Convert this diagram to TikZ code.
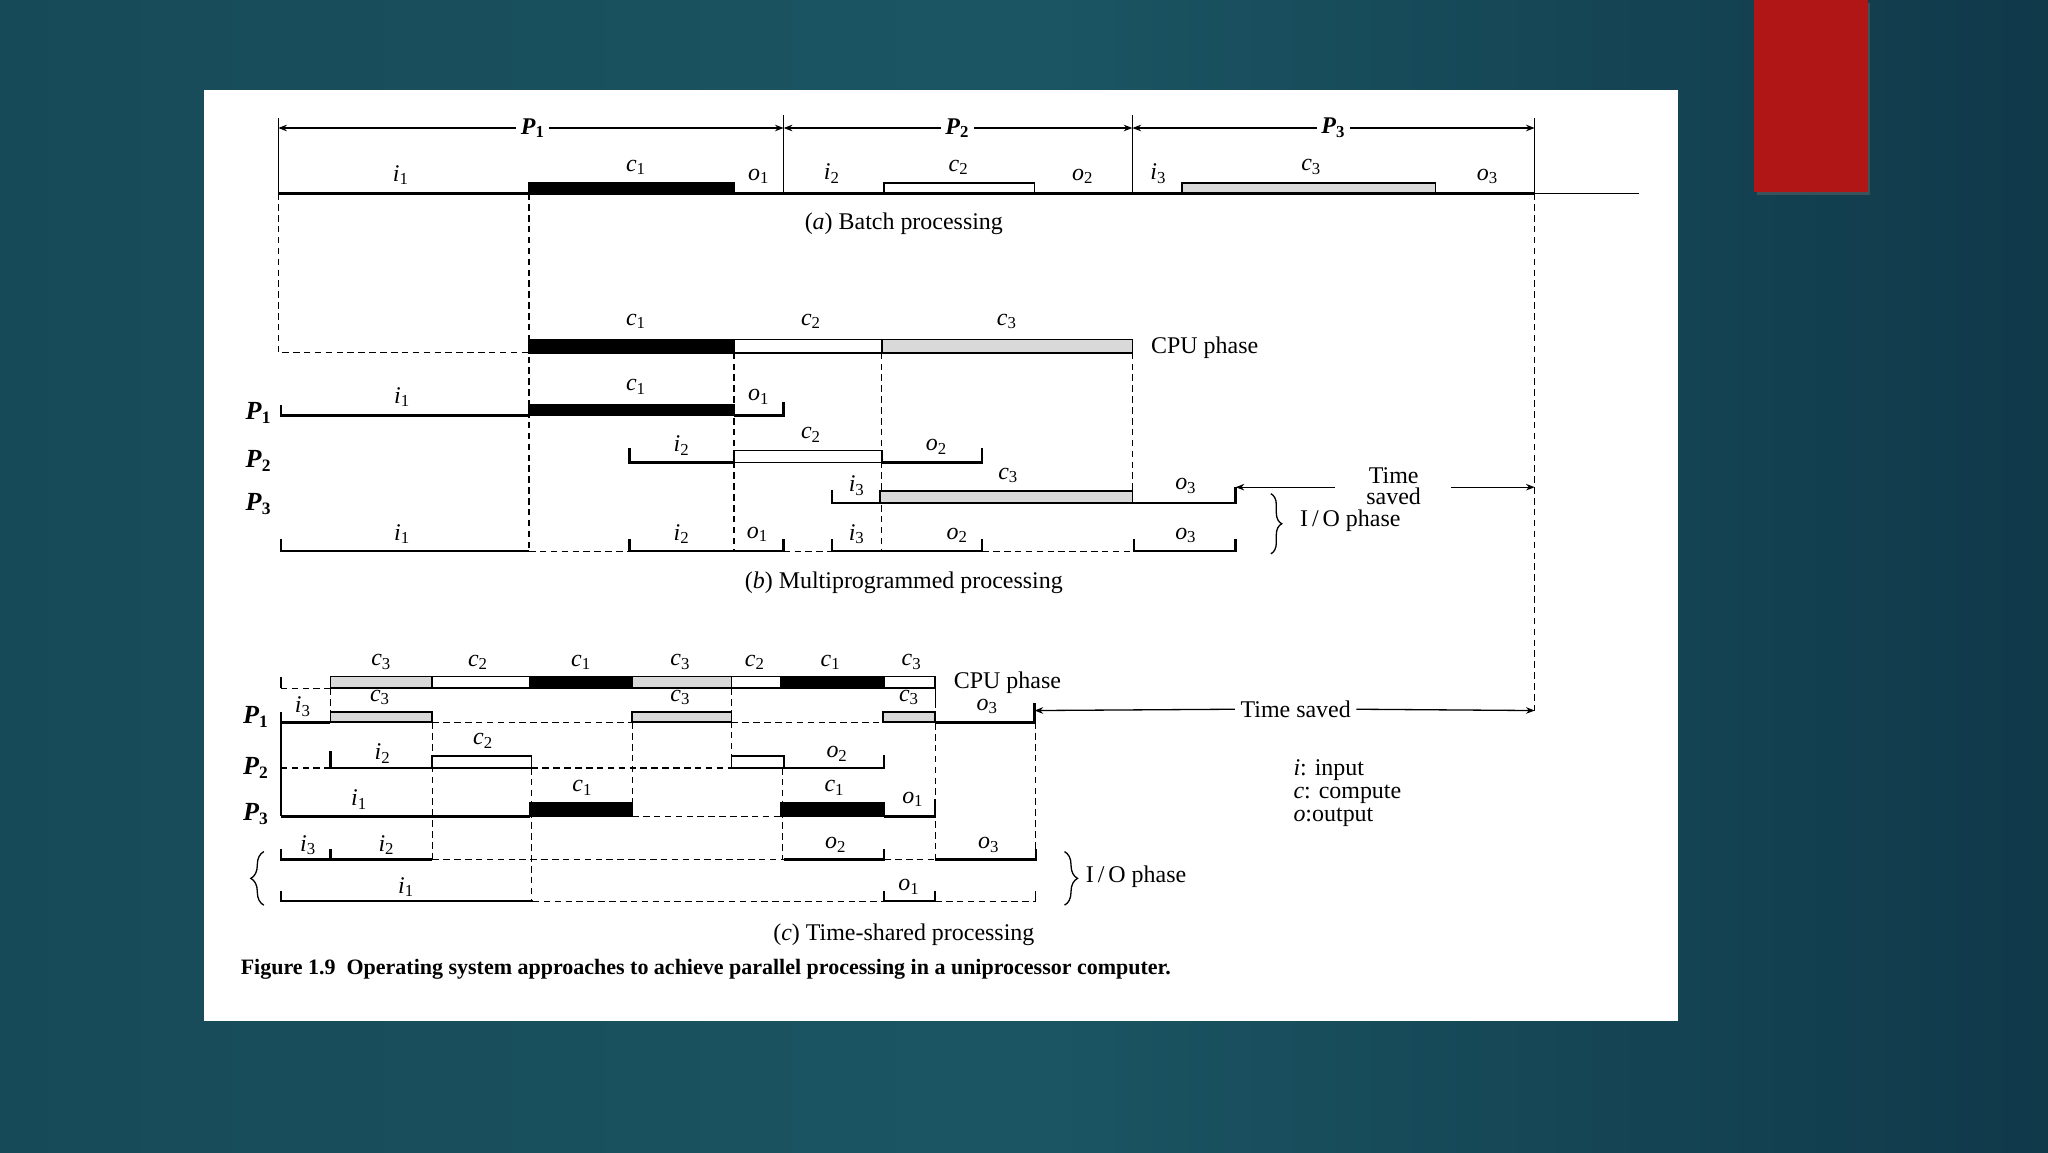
\documentclass[tikz,border=0pt]{standalone}
\usepackage{fontspec}
\setmainfont{Liberation Serif}
\usetikzlibrary{arrows.meta,decorations.pathreplacing}
\definecolor{bgl}{HTML}{174A58}
\definecolor{bgm}{HTML}{1B5563}
\definecolor{bgr}{HTML}{10394A}
\definecolor{slred}{HTML}{B01616}
\newcommand\lb[2]{\textit{#1}\textsubscript{#2}}
\newcommand\pl[1]{\textbf{\textit{P}}\textsubscript{\textbf{#1}}}
\begin{document}
\begin{tikzpicture}[x=0.6pt,y=-0.6pt,
  tl/.style={line width=1.1pt,line join=miter},
  thinl/.style={line width=0.6pt},
  dsh/.style={line width=0.6pt,dash pattern=on 3pt off 2pt},
  blk/.style={draw=black,fill=black,line width=0.8pt},
  wht/.style={draw=black,fill=white,line width=0.8pt},
  gry/.style={draw=black,fill=black!15,line width=0.8pt},
  lab/.style={inner sep=0pt,font=\fontsize{11}{12}\selectfont},
  txt/.style={inner sep=0pt,font=\fontsize{11}{13}\selectfont},
  arr/.style={line width=0.6pt,-{Stealth[length=4pt,width=3pt]}},
  darr/.style={line width=0.6pt,{Stealth[length=4pt,width=3pt]}-{Stealth[length=4pt,width=3pt]}}
]
\useasboundingbox (0,0) rectangle (1568,882);
% background
\shade[left color=bgl,right color=bgr,middle color=bgm] (0,0) rectangle (1568,882);
\fill[black!60,opacity=0.5] (1345,2) rectangle (1432,149);
\fill[slred] (1343,0) rectangle (1430,147);
\fill[white] (156,69) rectangle (1285,782);

% ================= (a) =================
\draw[thinl] (213,90) -- (213,148);
\draw[thinl] (600,88) -- (600,148);
\draw[thinl] (867,88) -- (867,148);
\draw[thinl] (1175,90) -- (1175,148);
\draw[darr] (213,98) -- (600,98);
\draw[darr] (600,98) -- (867,98);
\draw[darr] (867,98) -- (1175,98);
\node[lab,fill=white,inner sep=2pt] (pa1) at (408,98) {\pl{1}};
\node[lab,fill=white,inner sep=2pt] (pa2) at (733,98) {\pl{2}};
\node[lab,fill=white,inner sep=2pt] (pa3) at (1021,98) {\pl{3}};
\draw[tl] (213,148) -- (1175,148);
\draw[thinl] (1175,148) -- (1255,148);
\draw[blk] (405,140) rectangle (562,148);
\draw[wht] (677,140) rectangle (792,148);
\draw[gry] (905,140) rectangle (1099,148);
\node[lab] (ai1) at (307,134) {\lb{i}{1}};
\node[lab] (ac1) at (487,128) {\lb{c}{1}};
\node[lab] (ao1) at (581,135) {\lb{o}{1}};
\node[lab] (ai2) at (637,133) {\lb{i}{2}};
\node[lab] (ac2) at (734,128) {\lb{c}{2}};
\node[lab] (ao2) at (829,135) {\lb{o}{2}};
\node[lab] (ai3) at (887,133) {\lb{i}{3}};
\node[lab] (ac3) at (1004,128) {\lb{c}{3}};
\node[lab] (ao3) at (1139,135) {\lb{o}{3}};
\node[txt] (capa) at (692,171) {(\textit{a}) Batch processing};

% long dashed guides
\draw[dsh] (213,148) -- (213,270) -- (405,270);
\draw[dsh] (405,148) -- (405,422);
\draw[dsh] (1175,148) -- (1175,545);

% ================= (b) =================
\draw[blk] (405,260) rectangle (562,270);
\draw[wht] (562,260) rectangle (675,270);
\draw[gry] (675,260) rectangle (867,270);
\node[lab] (bc1) at (487,246) {\lb{c}{1}};
\node[lab] (bc2) at (621,246) {\lb{c}{2}};
\node[lab] (bc3) at (771,246) {\lb{c}{3}};
\node[txt,anchor=west] (bcpu) at (881,266) {CPU phase};
\draw[dsh] (562,270) -- (562,422);
\draw[dsh] (675,270) -- (675,422);
\draw[dsh] (867,270) -- (867,385);

\node[lab,font=\fontsize{12}{13}\selectfont] (bp1) at (198,316) {\pl{1}};
\node[lab,font=\fontsize{12}{13}\selectfont] (bp2) at (198,353) {\pl{2}};
\node[lab,font=\fontsize{12}{13}\selectfont] (bp3) at (198,386) {\pl{3}};

\draw[tl] (215,310) -- (215,318) -- (405,318);
\draw[blk] (405,310) rectangle (562,318);
\draw[tl] (562,318) -- (600,318) -- (600,308);
\node[lab] (b1i) at (308,304) {\lb{i}{1}};
\node[lab] (b1c) at (487,296) {\lb{c}{1}};
\node[lab] (b1o) at (581,304) {\lb{o}{1}};

\draw[tl] (482,343) -- (482,354) -- (562,354);
\draw[wht] (562,345) rectangle (675,354);
\draw[tl] (675,354) -- (752,354) -- (752,343);
\node[lab] (b2i) at (522,341) {\lb{i}{2}};
\node[lab] (b2c) at (621,333) {\lb{c}{2}};
\node[lab] (b2o) at (717,342) {\lb{o}{2}};

\draw[tl] (637,375) -- (637,385) -- (674,385);
\draw[gry] (674,376) rectangle (867,385);
\draw[tl] (867,385) -- (946,385) -- (946,373);
\node[lab] (b3i) at (656,372) {\lb{i}{3}};
\node[lab] (b3c) at (772,364) {\lb{c}{3}};
\node[lab] (b3o) at (908,372) {\lb{o}{3}};

\node[txt] (btime) at (1067,364) {Time};
\node[txt] (bsaved) at (1067,380) {saved};
\coordinate (bt1) at (946,373);
\coordinate (bt2) at (1175,373);
\draw[arr] (1022,373) -- (bt1);
\draw[arr] (1111,373) -- (bt2);

\draw[tl] (215,413) -- (215,422) -- (405,422);
\draw[dsh] (405,422) -- (482,422);
\draw[tl] (482,413) -- (482,422) -- (600,422) -- (600,413);
\draw[dsh] (600,422) -- (637,422);
\draw[tl] (637,413) -- (637,422) -- (752,422) -- (752,413);
\draw[dsh] (752,422) -- (868,422);
\draw[tl] (868,413) -- (868,422) -- (946,422) -- (946,413);
\node[lab] (bi1) at (308,409) {\lb{i}{1}};
\node[lab] (bi2) at (522,409) {\lb{i}{2}};
\node[lab] (bo1) at (580,409) {\lb{o}{1}};
\node[lab] (bi3) at (656,409) {\lb{i}{3}};
\node[lab] (bo2) at (733,410) {\lb{o}{2}};
\node[lab] (bo3) at (908,410) {\lb{o}{3}};
\draw[thinl,decorate,decoration={brace,amplitude=5pt}] (973,378) -- (973,424);
\node[txt,anchor=west] (bio) at (995,399) {I\,/\,O phase};
\node[txt] (capb) at (692,446) {(\textit{b}) Multiprogrammed processing};

% ================= (c) =================
\draw[tl] (215,518) -- (215,527);
\draw[dsh] (215,527) -- (253,527);
\draw[gry] (253,518) rectangle (331,527);
\draw[wht] (331,518) rectangle (406,527);
\draw[blk] (406,518) rectangle (484,527);
\draw[gry] (484,518) rectangle (560,527);
\draw[wht] (560,518) rectangle (598,527);
\draw[blk] (598,518) rectangle (677,527);
\draw[wht] (677,518) rectangle (716,527);
\draw[thinl] (716,527) -- (716,537);
\node[lab] (cc1) at (292,507) {\lb{c}{3}};
\node[lab] (cc2) at (366,507) {\lb{c}{2}};
\node[lab] (cc3) at (445,507) {\lb{c}{1}};
\node[lab] (cc4) at (521,507) {\lb{c}{3}};
\node[lab] (cc5) at (578,507) {\lb{c}{2}};
\node[lab] (cc6) at (636,507) {\lb{c}{1}};
\node[lab] (cc7) at (698,507) {\lb{c}{3}};
\node[txt,anchor=west] (ccpu) at (730,523) {CPU phase};

\node[lab,font=\fontsize{12}{13}\selectfont] (cp1) at (196,549) {\pl{1}};
\node[lab,font=\fontsize{12}{13}\selectfont] (cp2) at (196,588) {\pl{2}};
\node[lab,font=\fontsize{12}{13}\selectfont] (cp3) at (196,623) {\pl{3}};

% dashed guides (c)
\draw[dsh] (253,527) -- (253,545);
\draw[dsh] (331,553) -- (331,658);
\draw[dsh] (407,588) -- (407,690);
\draw[dsh] (484,553) -- (484,625);
\draw[dsh] (560,527) -- (560,588);
\draw[dsh] (599,588) -- (599,658);
\draw[dsh] (716,537) -- (716,658);
\draw[dsh] (793,553) -- (793,658);

% P1
\draw[tl] (215,545) -- (215,625);
\draw[tl] (215,553) -- (253,553);
\draw[gry] (253,545) rectangle (331,553);
\draw[dsh] (331,553) -- (484,553);
\draw[gry] (484,545) rectangle (560,553);
\draw[dsh] (560,553) -- (676,553);
\draw[gry] (676,545) rectangle (716,553);
\draw[tl] (716,553) -- (792,553) -- (792,538);
\node[lab] (c1i) at (232,541) {\lb{i}{3}};
\node[lab] (c1c1) at (291,534) {\lb{c}{3}};
\node[lab] (c1c2) at (521,534) {\lb{c}{3}};
\node[lab] (c1c3) at (696,534) {\lb{c}{3}};
\node[lab] (c1o) at (756,541) {\lb{o}{3}};
\node[txt] (cts) at (992,543) {Time saved};
\coordinate (ct1) at (792,544);
\coordinate (ct2) at (1175,544);
\draw[arr] (cts.west) ++(-4,0) -- (ct1);
\draw[arr] (cts.east) ++(4,0) -- (ct2);

% P2
\draw[dsh] (215,588) -- (253,588);
\draw[tl] (253,575) -- (253,588) -- (331,588);
\draw[wht] (331,579) rectangle (407,588);
\draw[dsh] (407,588) -- (560,588);
\draw[wht] (560,579) rectangle (600,588);
\draw[tl] (600,588) -- (677,588) -- (677,578);
\node[lab] (c2i) at (293,577) {\lb{i}{2}};
\node[lab] (c2c) at (370,567) {\lb{c}{2}};
\node[lab] (c2o) at (641,577) {\lb{o}{2}};

% P3
\draw[tl] (215,625) -- (406,625);
\draw[blk] (406,615) rectangle (484,625);
\draw[dsh] (484,625) -- (598,625);
\draw[blk] (598,615) rectangle (677,625);
\draw[tl] (677,625) -- (716,625) -- (716,612);
\node[lab] (c3i) at (275,612) {\lb{i}{1}};
\node[lab] (c3c1) at (446,603) {\lb{c}{1}};
\node[lab] (c3c2) at (639,603) {\lb{c}{1}};
\node[lab] (c3o) at (699,612) {\lb{o}{1}};

% I/O rows
\draw[tl] (215,650) -- (215,658) -- (331,658);
\draw[tl] (253,650) -- (253,658);
\draw[dsh] (331,658) -- (600,658);
\draw[tl] (600,658) -- (677,658) -- (677,650);
\draw[dsh] (677,658) -- (716,658);
\draw[tl] (716,658) -- (793,658) -- (793,650);
\node[lab] (ci3) at (236,647) {\lb{i}{3}};
\node[lab] (ci2) at (296,647) {\lb{i}{2}};
\node[lab] (co2) at (640,647) {\lb{o}{2}};
\node[lab] (co3) at (757,647) {\lb{o}{3}};

\draw[tl] (215,682) -- (215,690) -- (408,690);
\draw[dsh] (408,690) -- (677,690);
\draw[tl] (677,682) -- (677,690) -- (716,690) -- (716,682);
\draw[dsh] (716,690) -- (793,690);
\draw[thinl] (793,690) -- (793,682);
\node[lab] (ci1) at (311,679) {\lb{i}{1}};
\node[lab] (co1) at (696,679) {\lb{o}{1}};

\draw[thinl,decorate,decoration={brace,amplitude=6pt}] (202,693) -- (202,652);
\draw[thinl,decorate,decoration={brace,amplitude=6pt}] (815,652) -- (815,693);
\node[txt,anchor=west] (cio) at (831,671) {I\,/\,O phase};
\node[txt] (capc) at (692,716) {(\textit{c}) Time-shared processing};

% legend
\node[txt,anchor=west,align=left,font=\fontsize{11}{10.5}\selectfont] (leg) at (990,607)
  {\textit{i}: input\\\textit{c}: compute\\\textit{o}:output};

% caption
\node[inner sep=0pt,anchor=west,font=\bfseries\fontsize{10.1}{12}\selectfont] (fig) at (184,742)
  {Figure 1.9\ \ Operating system approaches to achieve parallel processing in a uniprocessor computer.};
\end{tikzpicture}
\end{document}
